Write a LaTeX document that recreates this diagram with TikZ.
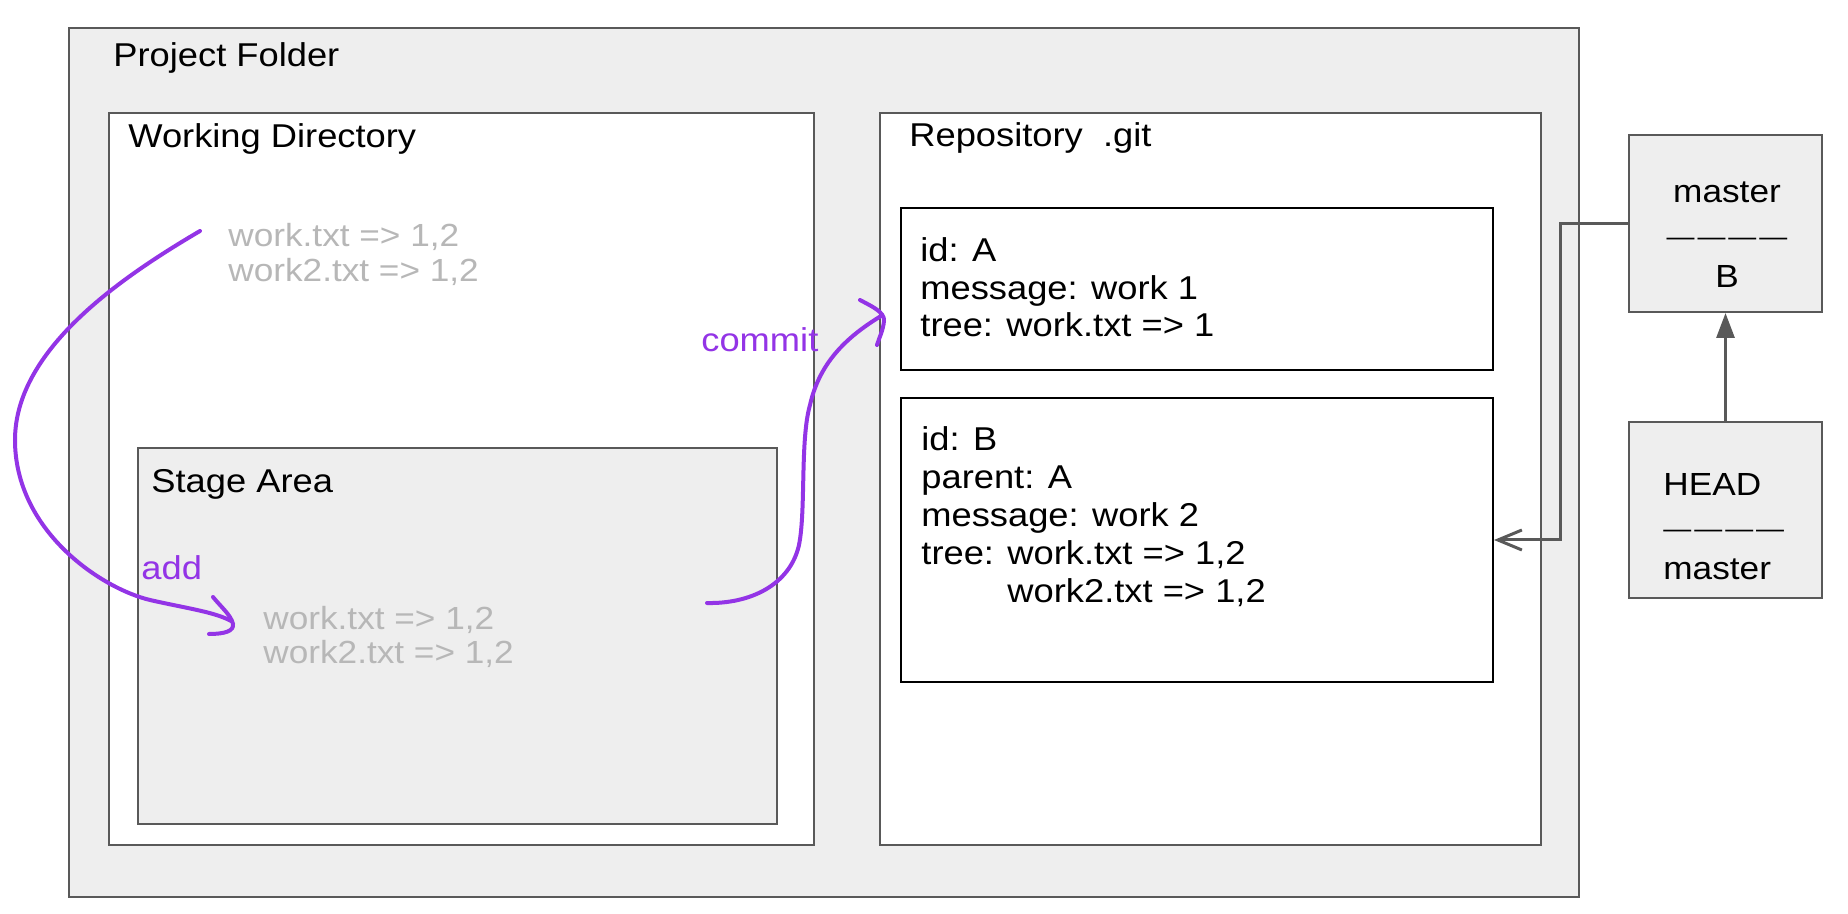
\documentclass[tikz,border=0pt]{standalone}
\usepackage{xcolor}
\usepackage{fontspec}
\setmainfont[FakeStretch=1.1]{Liberation Sans}
\usepackage{tikz}
\usetikzlibrary{calc}
\usetikzlibrary{arrows.meta}
\usetikzlibrary{positioning}

\definecolor{boxgrey}{HTML}{EEEEEE}
\definecolor{linegrey}{HTML}{595959}
\definecolor{filegrey}{HTML}{B7B7B7}
\definecolor{gitpurple}{HTML}{9334E6}

\newcommand{\dashrow}{{\fontsize{12.7}{14}\selectfont —\kern1.5pt—\kern1.5pt—\kern1.5pt—}}

\tikzset{
  area/.style={rectangle, draw=linegrey, line width=1pt, anchor=north west, inner sep=0pt},
  commitbox/.style={rectangle, draw=black, line width=1pt, fill=white, anchor=north west, inner sep=0pt, minimum width=296pt},
  txt/.style={anchor=base west, inner sep=0pt, align=left, font=\fontsize{16.5}{18.75}\selectfont},
  handline/.style={draw=gitpurple, line width=2pt, line cap=round},
  pointer/.style={draw=linegrey, line width=1.5pt}
}

\begin{document}
\begin{tikzpicture}[x=0.5pt, y=-0.5pt]
\useasboundingbox (0,0) rectangle (1848,914);
\node [area, fill=boxgrey, minimum width=755pt, minimum height=434.5pt] (folder) at (68,27) {};
\node [area, fill=white, minimum width=352.5pt, minimum height=366pt] (workdir) at (108,112) {};
\node [area, fill=boxgrey, minimum width=319.5pt, minimum height=188pt] (stage) at (137,447) {};
\node [area, fill=white, minimum width=330.5pt, minimum height=366pt] (repo) at (879,112) {};
\node [commitbox, minimum height=81pt] (commitA) at (900,207) {};
\node [commitbox, minimum height=142pt] (commitB) at (900,397) {};
\node [area, fill=boxgrey, minimum width=96.5pt, minimum height=88.5pt] (master) at (1628,134) {};
\node [area, fill=boxgrey, minimum width=96.5pt, minimum height=88pt] (head) at (1628,421) {};

\node [txt] (foldertitle) at (113,67) {Project Folder};
\node [txt] (wdtitle) at (128,148) {Working Directory};
\node [txt] (repotitle) at (909,147) {Repository\ \ .git};
\node [txt] (stagetitle) at (151,493) {Stage Area};
\node [txt, text=filegrey, font=\fontsize{16}{17.5}\selectfont] (wdfiles) at (228,282) {work.txt => 1,2\\work2.txt => 1,2};
\node [txt, text=filegrey, font=\fontsize{16}{17}\selectfont] (stagefiles) at (263,663) {work.txt => 1,2\\work2.txt => 1,2};
\node [txt] (commitAtxt) at (920,337) {id: A\\message: work 1\\tree: work.txt => 1};
\node [txt, font=\fontsize{16.5}{19}\selectfont] (commitBtxt) at (921,603) {id: B\\parent: A\\message: work 2\\tree: work.txt => 1,2\\\phantom{tree: }work2.txt => 1,2};
\node [txt, anchor=base, align=center, font=\fontsize{16}{21.25}\selectfont] (mastertxt) at (1727,288) {master\\\dashrow\\B};
\node [txt, font=\fontsize{16}{21.25}\selectfont] (headtxt) at (1663,580) {HEAD\\\dashrow\\master};
\node [txt, text=gitpurple] (addlabel) at (141,580) {add};
\node [txt, text=gitpurple] (commitlabel) at (701,352) {commit};

\draw [pointer, -{Straight Barb[length=12pt, width=10pt]}] (master.west) -- ++(-68,0) |- (commitB.east);
\draw [pointer, -{Triangle[length=12.5pt, width=9pt]}] (head.north) -- (master.south);

\coordinate (addstart) at ($(wdfiles.base west)+(-28,-51)$);
\coordinate (addtip) at ($(stagefiles.base west)+(-32,-42)$);
\draw [handline] (addstart) .. controls (120,278) and (15,350) .. (15,440) .. controls (15,530) and (100,588) .. (150,600) .. controls (185,608) and (215,612) .. (addtip);
\draw [handline] ($(addtip)+(-18,-24)$) .. controls ($(addtip)+(-10,-14)$) and ($(addtip)+(0,-6)$) .. ($(addtip)+(2,3)$) .. controls ($(addtip)+(3,10)$) and ($(addtip)+(-6,13)$) .. ($(addtip)+(-22,13)$);

\coordinate (commitstart) at (707,603);
\coordinate (committip) at (881,316);
\draw [handline] (commitstart) .. controls (750,604) and (790,585) .. (799,545) .. controls (806,510) and (800,440) .. (810,405) .. controls (820,360) and (850,335) .. (committip);
\draw [handline] ($(committip)+(-21,-16)$) .. controls ($(committip)+(-10,-10)$) and ($(committip)+(4,-4)$) .. ($(committip)+(3,5)$) .. controls ($(committip)+(2,15)$) and ($(committip)+(-2,22)$) .. ($(committip)+(-4,29)$);
\end{tikzpicture}
\end{document}
